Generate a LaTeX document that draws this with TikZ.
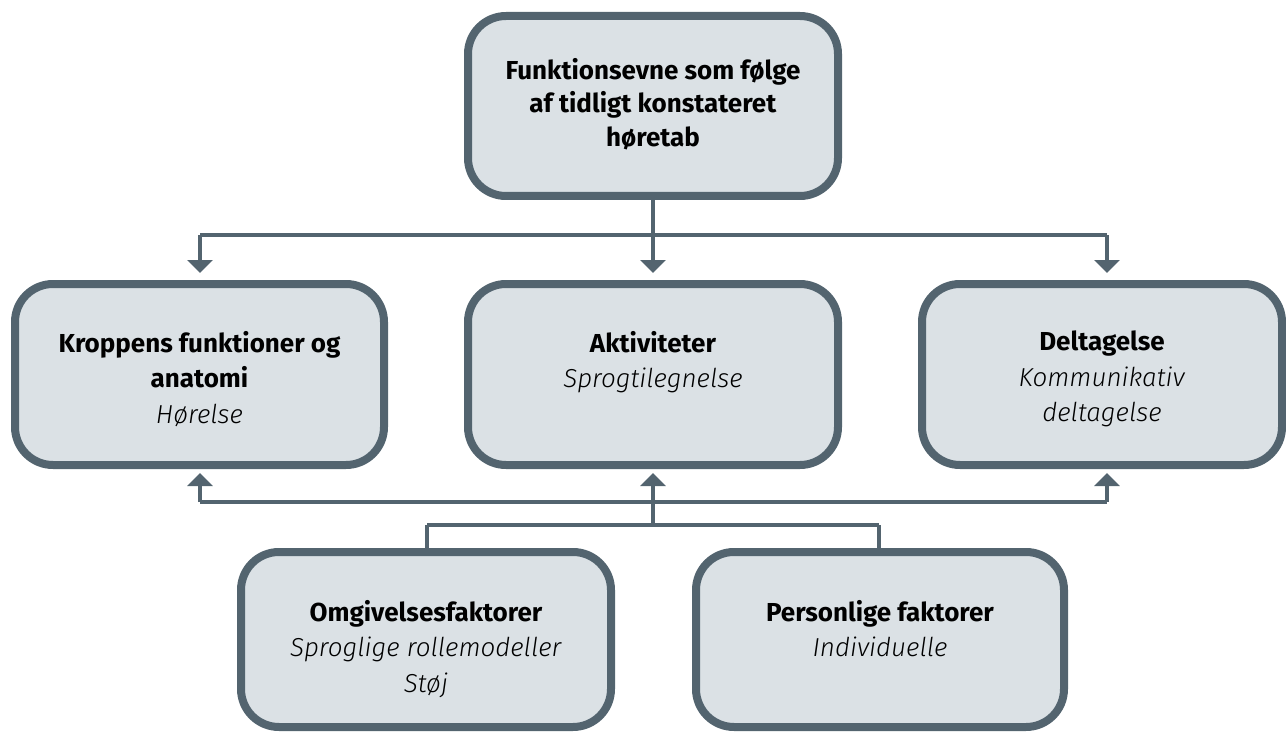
\documentclass[tikz,border=0pt]{standalone}
\usepackage{fontspec}
\setmainfont{Fira Sans}[ItalicFont={Fira Sans Light Italic}]
\usetikzlibrary{arrows.meta,calc}
\definecolor{bordc}{RGB}{83,100,111}
\definecolor{fillc}{RGB}{219,225,229}
\begin{document}
\begin{tikzpicture}[x=1pt,y=-1pt,
  box/.style={draw=bordc,fill=fillc,line width=8pt,rounded corners=38pt,outer sep=0pt,inner sep=0pt},
  lbl/.style={anchor=north,inner sep=0pt,align=center,font=\fontsize{26}{35.5}\selectfont,text=black},
  conn/.style={draw=bordc,line width=4pt},
  arr/.style={conn,-{Triangle[width=25pt,length=13pt]}}]
\useasboundingbox (0,0) rectangle (1286,733);
% boxes
\node[box,minimum width=370pt,minimum height=180pt] (top) at (653,106) {};
\node[box,minimum width=369pt,minimum height=181pt] (krop) at (199.5,374.5) {};
\node[box,minimum width=370pt,minimum height=181pt] (akt) at (653,374.5) {};
\node[box,minimum width=360pt,minimum height=181pt] (del) at (1102,374.5) {};
\node[box,minimum width=370pt,minimum height=175pt] (omg) at (426,639.5) {};
\node[box,minimum width=368pt,minimum height=175pt] (pers) at (880,639.5) {};
% labels
\node[lbl,font=\fontsize{26}{33.5}\selectfont] (toplbl) at (653,58) {\textbf{Funktionsevne som følge}\\\textbf{af tidligt konstateret}\\\textbf{høretab}};
\node[lbl] (kroplbl) at (199.5,331) {\textbf{Kroppens funktioner og}\\\textbf{anatomi}\\\textit{Hørelse}};
\node[lbl] (aktlbl) at (653,331) {\textbf{Aktiviteter}\\\textit{Sprogtilegnelse}};
\node[lbl] (dellbl) at (1102,331) {\textbf{Deltagelse}\\\textit{Kommunikativ}\\\textit{deltagelse}};
\node[lbl] (omglbl) at (426,600) {\textbf{Omgivelsesfaktorer}\\\textit{Sproglige rollemodeller}\\\textit{Støj}};
\node[lbl] (perslbl) at (880,600) {\textbf{Personlige faktorer}\\\textit{Individuelle}};
% top bus
\coordinate (t0) at (653,235);
\coordinate (tl) at (200,235);
\coordinate (tr) at (1107,235);
\draw[conn] (top.south) -- (t0);
\draw[conn] (tl) -- (tr);
\draw[arr,shorten >=11pt] (tl) -- (tl |- krop.north);
\draw[arr,shorten >=11pt] (t0) -- (akt.north);
\draw[arr,shorten >=11pt] (tr) -- (tr |- del.north);
% bottom buses
\coordinate (bl) at (200,502);
\coordinate (br) at (1107,502);
\coordinate (b0) at (653,525);
\coordinate (bol) at (427,525);
\coordinate (bor) at (879,525);
\draw[conn] (bl) -- (br);
\draw[conn] (bol) -- (bor);
\draw[conn] (bol) -- (bol |- omg.north);
\draw[conn] (bor) -- (bor |- pers.north);
\draw[arr,shorten >=8pt] (bl) -- (bl |- krop.south);
\draw[arr,shorten >=8pt] (b0) -- (akt.south);
\draw[arr,shorten >=8pt] (br) -- (br |- del.south);
\end{tikzpicture}
\end{document}
